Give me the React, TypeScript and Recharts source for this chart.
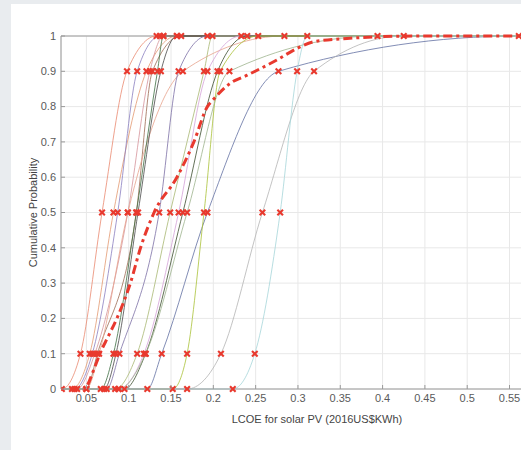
import React from 'react';
import { ComposedChart, Line, Scatter, XAxis, YAxis, CartesianGrid, ReferenceLine } from 'recharts';

// Probability levels at which each expert gave an LCOE estimate
const PROBS = [0, 0.1, 0.5, 0.9, 1];

// Expert estimates (LCOE, 2016US$/kWh) at the probability levels above
const E01 = [0.021, 0.043, 0.0685, 0.098, 0.133];
const E02 = [0.033, 0.054, 0.082, 0.121, 0.157];
const E03 = [0.036, 0.057, 0.087, 0.110, 0.137];
const E04 = [0.039, 0.060, 0.099, 0.125, 0.141];
const E05 = [0.050, 0.063, 0.109, 0.128, 0.162];
const E06 = [0.050, 0.065, 0.099, 0.164, 0.284];
const E07 = [0.067, 0.082, 0.109, 0.134, 0.141];
const E08 = [0.071, 0.085, 0.111, 0.138, 0.157];
const E09 = [0.074, 0.089, 0.136, 0.159, 0.193];
const E10 = [0.084, 0.110, 0.149, 0.189, 0.199];
const E11 = [0.088, 0.118, 0.159, 0.193, 0.233];
const E12 = [0.095, 0.120, 0.164, 0.205, 0.240];
const E13 = [0.122, 0.139, 0.193, 0.277, 0.561];
const E14 = [0.152, 0.169, 0.189, 0.208, 0.253];
const E15 = [0.088, 0.120, 0.169, 0.219, 0.394];
const E16 = [0.169, 0.209, 0.258, 0.319, 0.425];
const E17 = [0.223, 0.249, 0.279, 0.299, 0.311];

const EXPERTS = [E01, E02, E03, E04, E05, E06, E07, E08, E09, E10, E11, E12, E13, E14, E15, E16, E17];
const EXPERT_COLORS = [
  '#ea8a70', '#e39a72', '#8b80c0', '#d6939b', '#9c6a52', '#e7a28c', '#3f6f44', '#4a4a4a',
  '#7d70a6', '#a9b873', '#d4a2d8', '#3c4d2e', '#6371a3', '#aac238', '#9fb48f', '#b4b4b4', '#a6d6da',
];

// Aggregate (combined) distribution
const AGG_X = [0.030, 0.046, 0.051, 0.057, 0.062, 0.066, 0.076, 0.086, 0.102, 0.114, 0.130, 0.157, 0.177, 0.193, 0.200, 0.220, 0.240, 0.275, 0.299, 0.319, 0.358, 0.397, 0.450, 0.561];
const AGG_P = [0, 0, 0.01, 0.044, 0.075, 0.1, 0.15, 0.2, 0.3, 0.4, 0.5, 0.6, 0.7, 0.8, 0.82, 0.866, 0.889, 0.932, 0.965, 0.984, 0.993, 0.998, 1, 1];

// Axis setup
const X_DOMAIN = [0.02, 0.625];
const X_TICKS = [0.05, 0.1, 0.15, 0.2, 0.25, 0.3, 0.35, 0.4, 0.45, 0.5, 0.55];
const Y_TICKS = [0, 0.1, 0.2, 0.3, 0.4, 0.5, 0.6, 0.7, 0.8, 0.9, 1];

const FONT = '"Liberation Sans", Arial, Helvetica, sans-serif';
const RED = '#e8392e';
const AXIS = '#9a9a9a';

const expertSeries = EXPERTS.map((vals) => [
  { x: X_DOMAIN[0], y: 0 },
  ...vals.map((v, i) => ({ x: v, y: PROBS[i] })),
  { x: X_DOMAIN[1], y: 1 },
]);

const markers = EXPERTS.flatMap((vals) => vals.map((v, i) => ({ x: v, y: PROBS[i] })));

const aggSeries = AGG_X.map((x, i) => ({ x, y: AGG_P[i] }));

const XMark = (props: any) => {
  const { cx, cy } = props;
  if (cx == null || cy == null) return <g />;
  const s = 2.8;
  return (
    <g>
      <line x1={cx - s} y1={cy - s} x2={cx + s} y2={cy + s} stroke={RED} strokeWidth={2.1} />
      <line x1={cx - s} y1={cy + s} x2={cx + s} y2={cy - s} stroke={RED} strokeWidth={2.1} />
    </g>
  );
};

const YTick = (p: any) => (
  <g>
    <line x1={p.x + 5} x2={p.x + 9} y1={p.y} y2={p.y} stroke={AXIS} />
    <text x={p.x} y={p.y} dy="0.35em" textAnchor="end" fontSize={11} fontFamily={FONT} fill="#5a5a5a">
      {String(p.payload.value)}
    </text>
  </g>
);

const XTick = (p: any) => (
  <g>
    <line x1={p.x} x2={p.x} y1={p.y - 5} y2={p.y - 9} stroke={AXIS} />
    <text x={p.x} y={p.y} dy="0.71em" textAnchor="middle" fontSize={11} fontFamily={FONT} fill="#5a5a5a">
      {String(p.payload.value)}
    </text>
  </g>
);

const XLabel = (p: any) => {
  const vb = p.viewBox || { x: 61, y: 389, width: 512, height: 40 };
  return (
    <text x={vb.x + vb.width / 2} y={vb.y + 34} textAnchor="middle" fontSize={11} fontFamily={FONT} fill="#444">
      LCOE for solar PV (2016US$KWh)
    </text>
  );
};

const YLabel = (p: any) => {
  const vb = p.viewBox || { x: 0, y: 36, width: 61, height: 353 };
  const cx = 37;
  const cy = vb.y + vb.height / 2;
  return (
    <text x={cx} y={cy} transform={`rotate(-90 ${cx} ${cy})`} textAnchor="middle" fontSize={11} fontFamily={FONT} fill="#444">
      Cumulative Probability
    </text>
  );
};

export default function App() {
  return (
    <div style={{ position: 'fixed', left: 0, top: 0, width: 521, height: 450, overflow: 'hidden', background: '#e9ecef' }}>
      <div style={{ position: 'absolute', left: 11, top: 4, right: 0, bottom: 0, background: '#ffffff' }} />
      <div style={{ position: 'absolute', left: 0, top: 0 }}>
        <ComposedChart width={600} height={450} margin={{ top: 36, right: 27, bottom: 21, left: 0 }}>
          <CartesianGrid stroke="#e8e8e8" />
          <XAxis
            type="number"
            dataKey="x"
            domain={X_DOMAIN}
            ticks={X_TICKS}
            allowDataOverflow
            height={40}
            tickSize={0}
            tickMargin={5}
            tickLine={false}
            axisLine={{ stroke: AXIS }}
            tick={<XTick />}
            label={{ content: <XLabel /> }}
          />
          <YAxis
            type="number"
            dataKey="y"
            domain={[0, 1]}
            ticks={Y_TICKS}
            width={61}
            tickSize={0}
            tickMargin={5}
            tickLine={false}
            axisLine={{ stroke: AXIS }}
            tick={<YTick />}
            label={{ content: <YLabel /> }}
          />
          <ReferenceLine y={1} stroke={AXIS} />
          {expertSeries.map((d, i) => (
            <Line
              key={`e${i}`}
              data={d}
              dataKey="y"
              type="monotone"
              stroke={EXPERT_COLORS[i]}
              strokeWidth={1}
              strokeOpacity={0.8}
              dot={false}
              activeDot={false}
              isAnimationActive={false}
            />
          ))}
          <Line
            data={aggSeries}
            dataKey="y"
            type="monotone"
            stroke={RED}
            strokeWidth={3}
            strokeDasharray="9 4 3 4"
            dot={false}
            activeDot={false}
            isAnimationActive={false}
          />
          <Scatter data={markers} dataKey="y" shape={<XMark />} isAnimationActive={false} />
        </ComposedChart>
      </div>
    </div>
  );
}
